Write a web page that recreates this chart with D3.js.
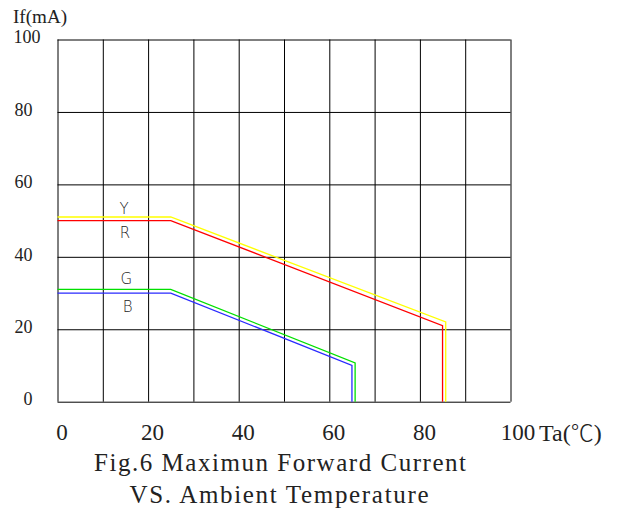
<!DOCTYPE html>
<html>
<head>
<meta charset="utf-8">
<script src="https://cdn.jsdelivr.net/npm/d3@7"></script>
<style>
  body { margin: 0; background: #fff; }
  svg { display: block; }
  .grid line { stroke: #000; stroke-width: 1; }
  .grid path { display: none; }
  .tick-x text { font-family: "Liberation Serif", serif; font-size: 23px; fill: #222; }
  .tick-y text { font-family: "Liberation Serif", serif; font-size: 18px; fill: #222; }
  .title { font-family: "Liberation Serif", serif; font-size: 25px; fill: #222; }
  .unit { font-family: "Liberation Serif", serif; fill: #222; }
  .series-label { font-family: "DejaVu Sans", sans-serif; font-weight: 200; font-size: 15px; fill: #222; }
</style>
</head>
<body>
<svg id="chart" width="641" height="509"></svg>
<script>
// Ta (°C) ticks and If (mA) ticks
var xTicks = [0, 10, 20, 30, 40, 50, 60, 70, 80, 90, 100],
    xLabels = [0, 20, 40, 60, 80, 100],
    yTicks = [0, 20, 40, 60, 80, 100];

// derating curves, [Ta, If]
var yellowPts = [[0, 51], [25, 51], [85.7, 22], [85.7, 0]],
    redPts    = [[0, 50], [25, 50], [85, 21], [85, 0]],
    greenPts  = [[0, 31], [25, 31], [65.7, 10.7], [65.7, 0]],
    bluePts   = [[0, 30], [25, 30], [65, 10], [65, 0]];

var seriesNames = ["Y", "R", "G", "B"],
    seriesColors = ["#ffff00", "#ff0000", "#00e000", "#2a2aff"],
    labelAt = [[14.7, 51, -3], [14.9, 50, 17], [15.2, 31, -5], [15.5, 30, 19]];

var svg = d3.select("#chart"),
    x = d3.scaleLinear().domain([0, 100]).range([57.5, 510.5]),
    y = d3.scaleLinear().domain([0, 100]).range([401.7, 39.5]),
    plotW = x(100) - x(0),
    plotH = y(0) - y(100);

// vertical grid + x labels
var gx = svg.append("g")
    .attr("class", "grid tick-x")
    .attr("transform", "translate(0," + y(0) + ")")
    .call(d3.axisBottom(x)
        .tickValues(xTicks)
        .tickSize(-plotH)
        .tickPadding(22)
        .tickFormat(function (d) { return xLabels.indexOf(d) >= 0 ? d : ""; }));
gx.selectAll("text").attr("dx", function (d) { return d === 100 ? 7 : 4; });

// horizontal grid + y labels
var gy = svg.append("g")
    .attr("class", "grid tick-y")
    .attr("transform", "translate(" + x(0) + ",0)")
    .call(d3.axisLeft(y)
        .tickValues(yTicks)
        .tickSize(-plotW)
        .tickPadding(25));
gy.selectAll("text")
    .attr("dy", "0.18em")
    .attr("dx", function (d) { return d === 100 ? 8 : 0; });

// curves
var line = d3.line()
    .x(function (d) { return x(d[0]); })
    .y(function (d) { return y(d[1]); });

[yellowPts, redPts, greenPts, bluePts].forEach(function (pts, i) {
    svg.append("path")
        .datum(pts)
        .attr("d", line)
        .attr("fill", "none")
        .attr("stroke", seriesColors[i])
        .attr("stroke-width", 1.3);
});

svg.selectAll(".series-label")
    .data(seriesNames)
    .enter()
    .append("text")
    .attr("class", "series-label")
    .attr("text-anchor", "middle")
    .attr("x", function (d, i) { return x(labelAt[i][0]); })
    .attr("y", function (d, i) { return y(labelAt[i][1]) + labelAt[i][2]; })
    .text(function (d) { return d; });

// axis units
svg.append("text")
    .attr("class", "unit")
    .attr("x", 13).attr("y", 23)
    .attr("font-size", 19)
    .attr("textLength", 54).attr("lengthAdjust", "spacingAndGlyphs")
    .text("If(mA)");

var ta = svg.append("text")
    .attr("class", "unit")
    .attr("x", 539).attr("y", 441)
    .attr("font-size", 24);
ta.append("tspan").text("Ta(");
ta.append("tspan")
    .attr("font-family", "'Noto Sans CJK SC', sans-serif")
    .attr("font-weight", 300)
    .attr("font-size", 23)
    .text("℃");
ta.append("tspan").text(")");

// caption
svg.append("text")
    .attr("class", "title")
    .attr("x", 94).attr("y", 471)
    .attr("textLength", 372).attr("lengthAdjust", "spacing")
    .text("Fig.6 Maximun Forward Current");

svg.append("text")
    .attr("class", "title")
    .attr("x", 129.5).attr("y", 502.5)
    .attr("textLength", 299).attr("lengthAdjust", "spacing")
    .text("VS. Ambient Temperature");
</script>
</body>
</html>
